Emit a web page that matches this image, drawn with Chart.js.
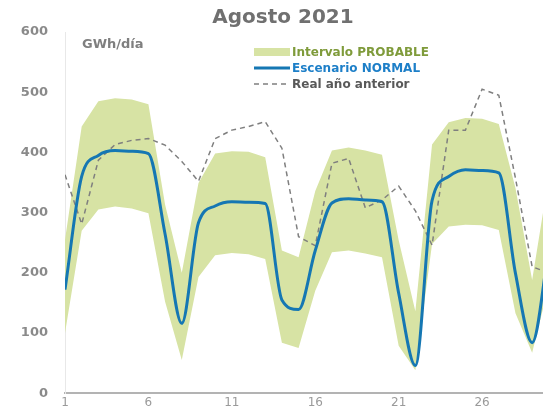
<!DOCTYPE html>
<html>
<head>
<meta charset="utf-8">
<script src="https://cdn.jsdelivr.net/npm/chart.js@4"></script>
<style>
  html, body { margin: 0; padding: 0; background: #fff; overflow: hidden; }
  #chart { display: block; }
</style>
</head>
<body>
<canvas id="chart" width="543" height="418"></canvas>
<script>
// Agosto 2021, GWh/día
const days = [1, 2, 3, 4, 5, 6, 7, 8, 9, 10, 11, 12, 13, 14, 15, 16, 17, 18, 19, 20, 21, 22, 23, 24, 25, 26, 27, 28, 29, 30];
const probableHigh = [255, 443, 485, 490, 488, 480, 313, 200, 349, 398, 402, 401, 392, 237, 226, 336, 403, 408, 403, 396, 254, 136, 413, 450, 457, 456, 447, 341, 188, 360];
const probableLow = [100, 270, 305, 310, 307, 299, 152, 55, 193, 229, 233, 231, 223, 84, 75, 170, 234, 237, 232, 226, 79, 38, 248, 277, 280, 279, 271, 133, 67, 180];
const normalScenario = [172, 360, 395, 403, 402, 398, 264, 116, 283, 311, 318, 317, 315, 155, 139, 237, 316, 323, 321, 318, 166, 46, 320, 360, 371, 370, 366, 199, 84, 240];
const previousYear = [363, 281, 387, 413, 420, 423, 412, 385, 352, 423, 437, 443, 451, 407, 260, 245, 382, 390, 308, 321, 344, 303, 246, 437, 437, 505, 495, 357, 210, 200];
const xTicks = [1, 6, 11, 16, 21, 26];

const titleText = "Agosto 2021";
const unitText = "GWh/día";
const legendItems = [
  { label: "Intervalo PROBABLE", kind: "band", color: "#d7e3a4", text: "#7f9b3b" },
  { label: "Escenario NORMAL", kind: "line", color: "#1577b3", text: "#1d7fc8" },
  { label: "Real año anterior", kind: "dash", color: "#7f7f7f", text: "#595959" }
];

function toPoints(values) {
  return values.map((v, i) => ({ x: days[i], y: v }));
}

const decorations = {
  id: "decorations",
  afterDraw(chart) {
    const ctx = chart.ctx;
    ctx.save();

    ctx.fillStyle = "#707070";
    ctx.font = "bold 20px 'DejaVu Sans'";
    ctx.textAlign = "center";
    ctx.textBaseline = "middle";
    ctx.fillText(titleText, 283, 18);

    ctx.fillStyle = "#7f7f7f";
    ctx.font = "bold 13px 'DejaVu Sans'";
    ctx.textAlign = "left";
    ctx.fillText(unitText, 82, 45);

    ctx.font = "bold 12px 'DejaVu Sans'";
    legendItems.forEach((item, i) => {
      const y = 52 + i * 16;
      if (item.kind === "band") {
        ctx.fillStyle = item.color;
        ctx.fillRect(254, y - 4, 36, 8);
      } else {
        ctx.strokeStyle = item.color;
        ctx.lineWidth = item.kind === "line" ? 3 : 1.5;
        ctx.setLineDash(item.kind === "dash" ? [5, 4] : []);
        ctx.beginPath();
        ctx.moveTo(254, y);
        ctx.lineTo(290, y);
        ctx.stroke();
        ctx.setLineDash([]);
      }
      ctx.fillStyle = item.text;
      ctx.fillText(item.label, 292, y + 1);
    });

    ctx.restore();
  }
};

new Chart(document.getElementById("chart"), {
  type: "line",
  data: {
    datasets: [
      {
        label: "low",
        data: toPoints(probableLow),
        borderWidth: 0,
        pointRadius: 0,
        fill: false,
        tension: 0,
        order: 4
      },
      {
        label: legendItems[0].label,
        data: toPoints(probableHigh),
        borderWidth: 0,
        pointRadius: 0,
        backgroundColor: legendItems[0].color,
        fill: "-1",
        tension: 0,
        order: 3
      },
      {
        label: legendItems[2].label,
        data: toPoints(previousYear),
        borderColor: legendItems[2].color,
        borderWidth: 1.5,
        borderDash: [5, 4],
        pointRadius: 0,
        fill: false,
        tension: 0,
        order: 2
      },
      {
        label: legendItems[1].label,
        data: toPoints(normalScenario),
        borderColor: legendItems[1].color,
        borderWidth: 3,
        pointRadius: 0,
        fill: false,
        cubicInterpolationMode: "monotone",
        order: 1
      }
    ]
  },
  options: {
    responsive: false,
    devicePixelRatio: 1,
    animation: false,
    layout: { padding: { top: 32, right: 0, bottom: 0, left: 0 } },
    plugins: {
      legend: { display: false },
      title: { display: false },
      tooltip: { enabled: false }
    },
    scales: {
      x: {
        type: "linear",
        min: 1,
        max: 29.65,
        afterBuildTicks: (scale) => {
          scale.ticks = xTicks.map((v) => ({ value: v }));
        },
        afterFit: (scale) => {
          scale.height = 13;
        },
        grid: { display: false, drawTicks: false },
        border: { color: "#b3b3b3", width: 2 },
        ticks: {
          color: "#9a9a9a",
          padding: 2,
          maxRotation: 0,
          font: { family: "'DejaVu Sans'", size: 12 }
        }
      },
      y: {
        min: 0,
        max: 600,
        afterFit: (scale) => {
          scale.width = 65;
        },
        grid: { display: false, drawTicks: false },
        border: { color: "#e8e8e8", width: 1 },
        ticks: {
          stepSize: 100,
          color: "#8a8a8a",
          padding: 17,
          font: { family: "'DejaVu Sans'", size: 13, weight: "bold" }
        }
      }
    }
  },
  plugins: [decorations]
});
</script>
</body>
</html>
